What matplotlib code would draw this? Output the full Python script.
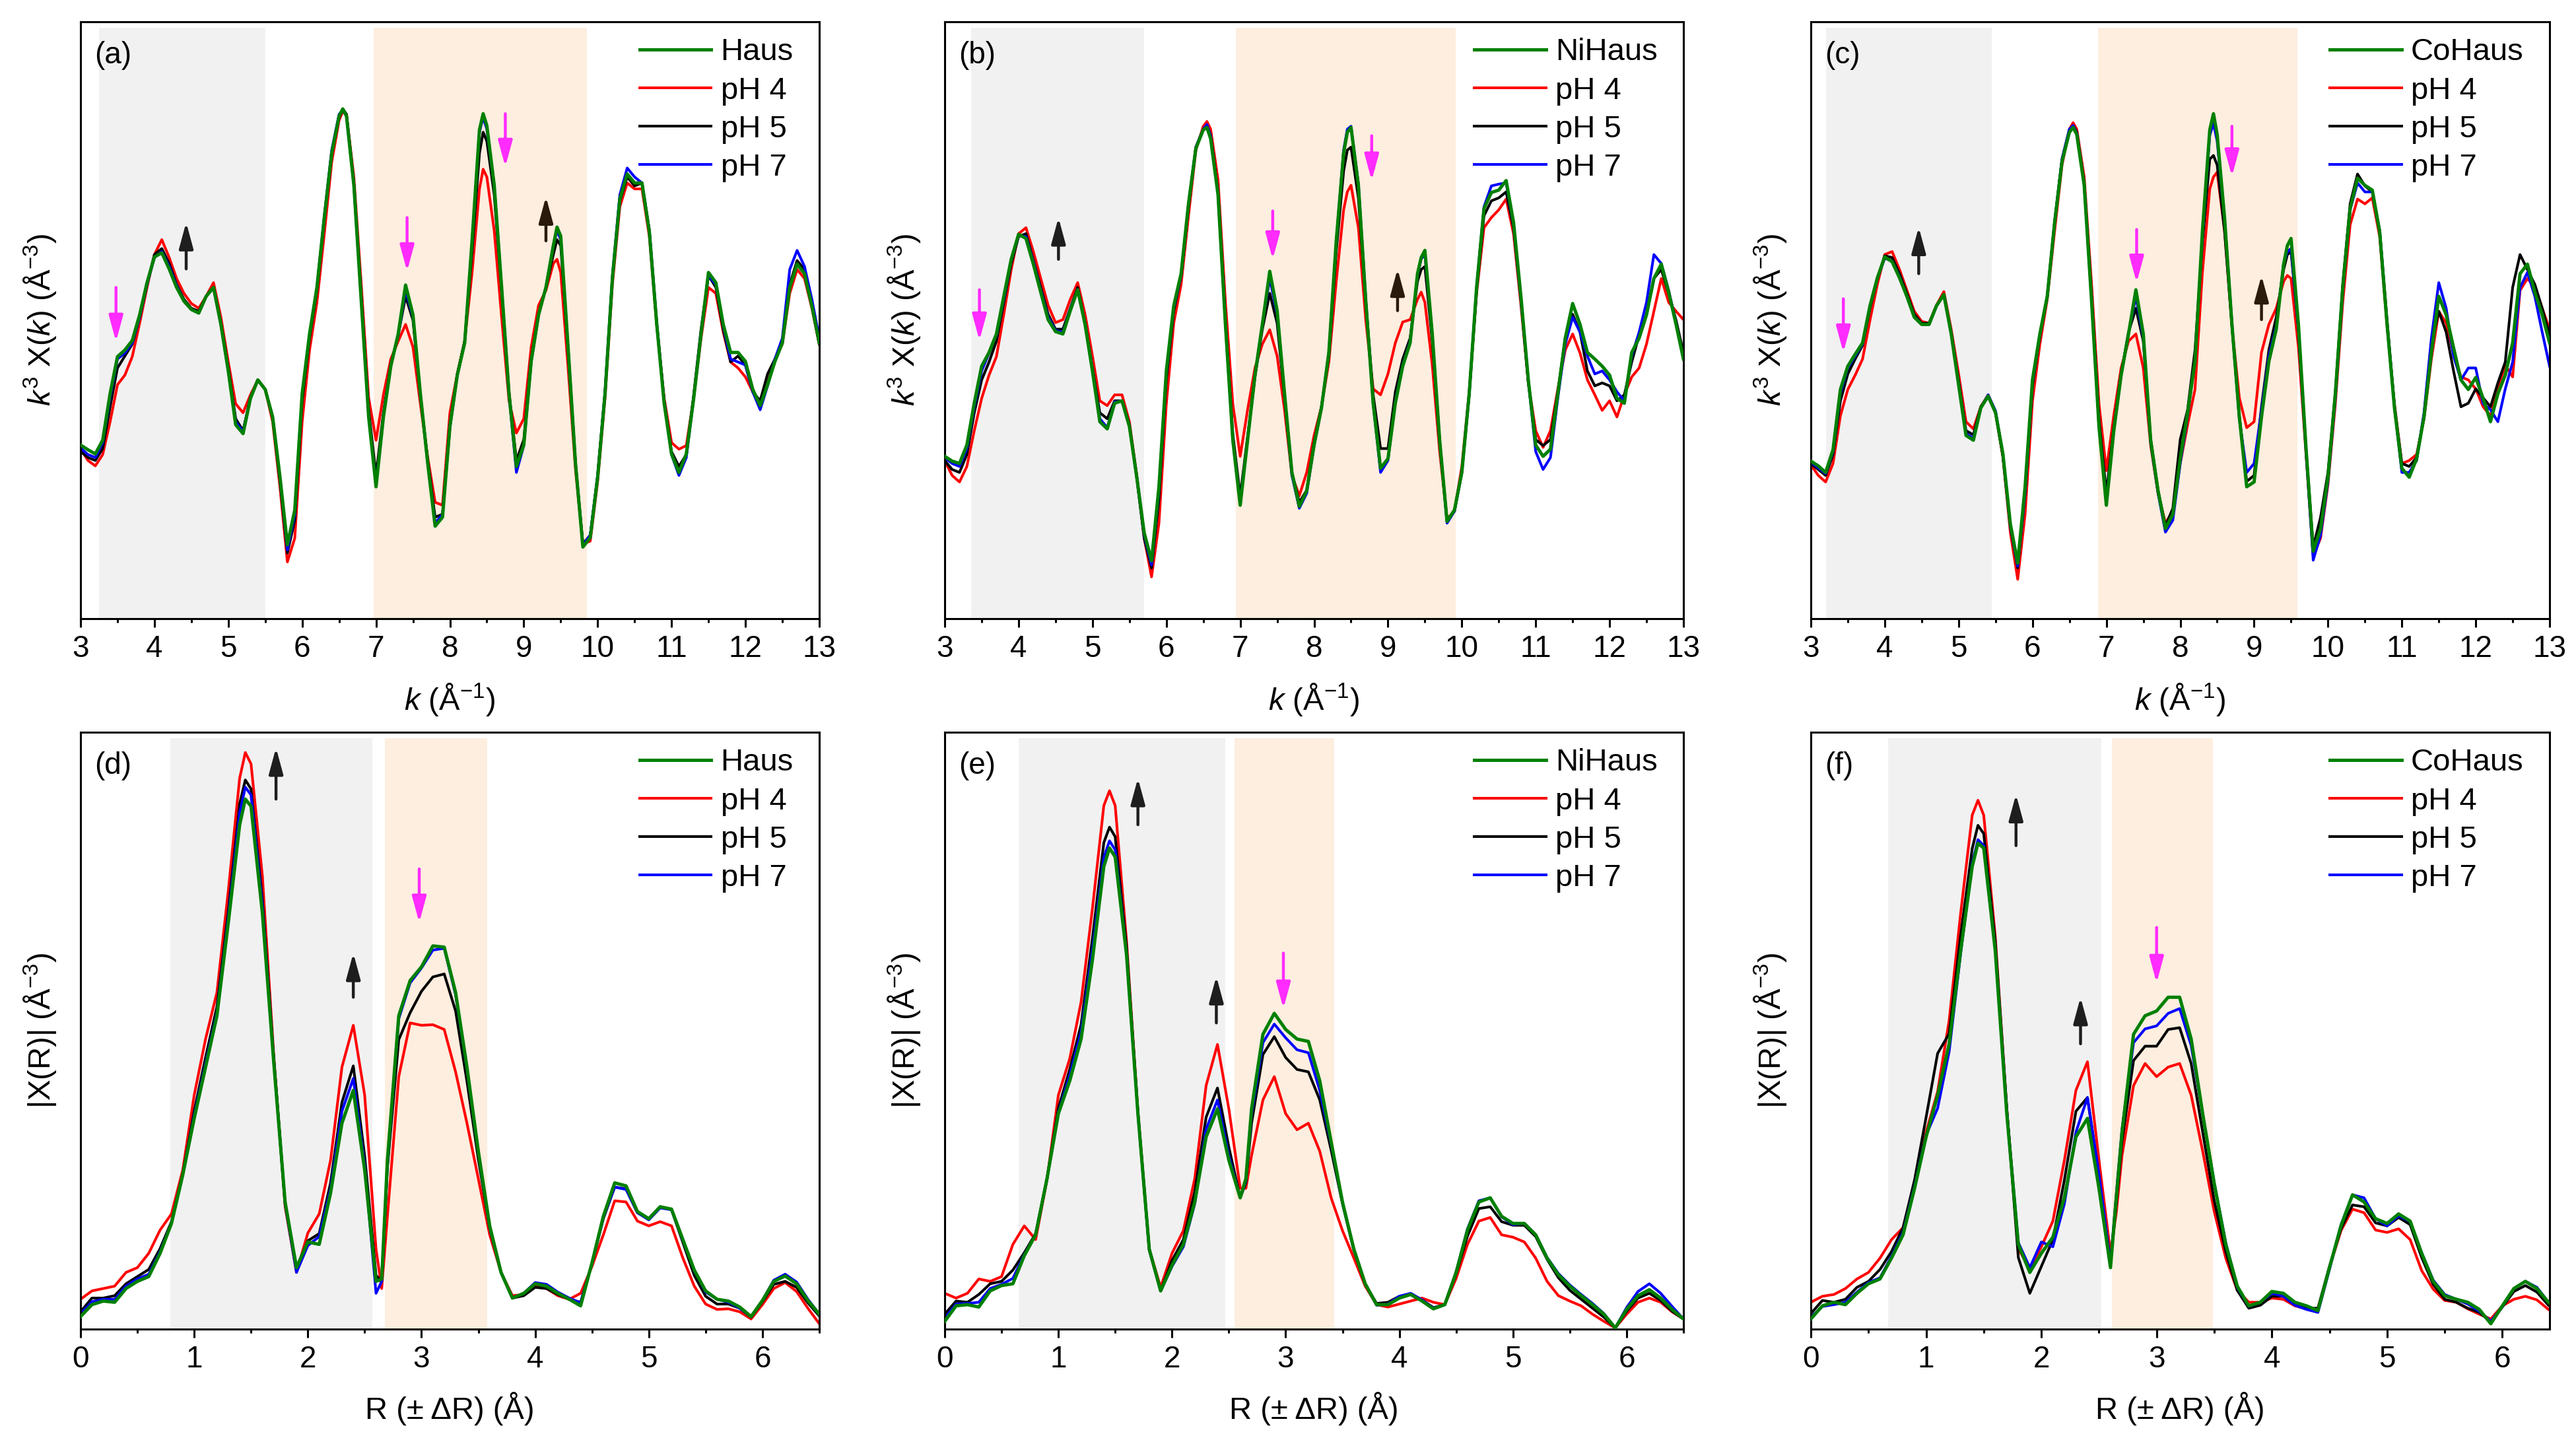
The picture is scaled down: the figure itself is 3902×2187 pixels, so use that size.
import matplotlib
matplotlib.use("Agg")
import matplotlib.pyplot as plt
from matplotlib.ticker import MultipleLocator

plt.rcParams['font.family'] = ['Liberation Sans', 'DejaVu Sans']
plt.rcParams['mathtext.fontset'] = 'custom'
plt.rcParams['mathtext.rm'] = 'Liberation Sans'
plt.rcParams['mathtext.it'] = 'Liberation Sans:italic'
plt.rcParams['mathtext.bf'] = 'Liberation Sans:bold'

# ---------------- k-space grid (top row) ----------------
k_top = [3.0, 3.1, 3.2, 3.3, 3.4, 3.5, 3.6, 3.7, 3.8, 3.9,
         4.0, 4.1, 4.2, 4.3, 4.4, 4.5, 4.6, 4.7, 4.8, 4.9,
         5.0, 5.1, 5.2, 5.3, 5.4, 5.5, 5.6, 5.7, 5.8, 5.9,
         6.0, 6.1, 6.2, 6.3, 6.4, 6.5, 6.55, 6.6, 6.7, 6.8, 6.9,
         7.0, 7.1, 7.2, 7.3, 7.4, 7.5, 7.6, 7.7, 7.8, 7.9,
         8.0, 8.1, 8.2, 8.3, 8.4, 8.45, 8.5, 8.6, 8.7, 8.8, 8.9,
         9.0, 9.1, 9.2, 9.3, 9.4, 9.45, 9.5, 9.6, 9.7, 9.8, 9.9,
         10.0, 10.1, 10.2, 10.3, 10.4, 10.5, 10.6, 10.7, 10.8, 10.9,
         11.0, 11.1, 11.2, 11.3, 11.4, 11.5, 11.6, 11.7, 11.8, 11.9,
         12.0, 12.1, 12.2, 12.3, 12.4, 12.5, 12.6, 12.7, 12.8, 12.9,
         13.0]

# ---- panel (a) ----
a_haus = [29.1, 28.3, 27.6, 29.9, 37.7, 43.9, 45.0, 46.6, 50.9, 56.3,
          60.6, 61.3, 58.6, 55.5, 53.2, 51.8, 51.2, 54.0, 55.5, 49.3,
          41.5, 32.5, 31.0, 36.9, 40.0, 38.4, 33.8, 23.7, 12.4, 18.2,
          37.7, 47.7, 55.5, 67.2, 78.0, 84.2, 85.4, 84.2, 72.6, 53.2, 33.8,
          22.1, 33.8, 42.3, 47.7, 55.9, 50.9, 37.7, 26.0, 15.5, 17.0,
          32.2, 40.8, 46.2, 63.3, 81.9, 84.6, 82.6, 72.6, 55.5, 37.7, 25.5,
          29.1, 43.1, 50.9, 55.5, 62.5, 65.6, 64.1, 45.4, 26.0, 12.0, 13.6,
          23.7, 37.7, 57.1, 70.3, 74.5, 73.0, 73.0, 64.8, 49.3, 36.1,
          27.6, 24.5, 27.6, 36.9, 47.7, 58.0, 56.3, 49.3, 44.6, 44.6,
          43.1, 38.4, 35.7, 39.2, 43.1, 46.2, 55.5, 59.4, 57.8, 52.4,
          46.2]
a_ph4 = [28.5, 26.5, 25.6, 27.5, 33.0, 39.2, 40.8, 43.9, 49.5, 55.5,
         61.0, 63.5, 60.5, 57.0, 54.5, 52.8, 52.0, 54.0, 56.3, 50.5,
         43.0, 36.0, 34.5, 37.5, 40.0, 38.4, 33.0, 22.0, 9.5, 13.5,
         33.0, 45.0, 53.0, 64.5, 76.5, 83.5, 85.0, 84.5, 74.0, 56.0, 37.0,
         29.9, 37.5, 43.5, 46.5, 49.3, 45.5, 36.0, 27.0, 19.5, 19.0,
         34.5, 41.0, 46.5, 58.0, 72.0, 75.3, 74.0, 65.0, 50.5, 36.5, 31.1,
         33.5, 45.5, 52.5, 55.0, 59.5, 60.2, 58.0, 42.0, 25.0, 12.5, 13.0,
         23.0, 37.0, 56.0, 69.0, 73.0, 72.0, 72.0, 64.0, 49.0, 37.0,
         29.5, 28.4, 29.0, 37.0, 47.0, 55.5, 54.5, 48.0, 43.0, 42.0,
         40.5, 38.0, 36.0, 39.5, 43.5, 46.0, 54.5, 58.5, 57.0, 52.0,
         46.0]
a_ph5 = [28.0, 27.0, 26.5, 28.5, 35.5, 42.0, 44.0, 46.0, 50.5, 56.0,
         61.0, 62.0, 59.5, 56.0, 53.5, 52.0, 51.5, 54.0, 55.5, 49.5,
         42.0, 33.5, 31.5, 37.0, 40.0, 38.4, 33.8, 23.0, 11.0, 16.5,
         36.5, 47.0, 55.0, 67.0, 78.0, 84.0, 85.4, 84.5, 73.0, 54.0, 35.0,
         24.0, 34.5, 42.5, 47.5, 54.0, 50.0, 37.5, 26.5, 17.0, 17.5,
         32.5, 41.0, 46.5, 61.5, 78.0, 81.5, 80.0, 71.0, 55.0, 38.0, 26.5,
         30.0, 43.5, 51.0, 55.5, 61.0, 63.5, 62.5, 45.0, 26.0, 12.5, 14.0,
         24.0, 38.0, 57.0, 70.0, 74.0, 72.5, 73.0, 65.0, 49.5, 36.5,
         28.0, 25.5, 27.5, 37.5, 48.5, 57.5, 55.5, 48.5, 43.0, 44.0,
         42.5, 38.0, 36.5, 41.0, 43.5, 46.5, 56.0, 60.0, 58.5, 52.5,
         46.0]
a_ph7 = [28.6, 27.5, 27.0, 29.5, 37.0, 43.5, 44.5, 46.2, 50.5, 56.0,
         60.5, 61.5, 59.0, 55.8, 53.2, 51.8, 51.2, 54.0, 55.5, 49.3,
         41.5, 33.0, 31.3, 37.0, 40.0, 38.4, 33.8, 23.5, 11.5, 17.5,
         37.5, 47.5, 55.5, 67.5, 78.5, 84.5, 85.2, 84.2, 72.6, 53.5, 34.0,
         22.5, 34.0, 42.5, 47.5, 55.0, 50.5, 37.5, 26.0, 16.0, 17.5,
         32.0, 40.8, 46.2, 63.0, 81.5, 84.0, 82.0, 72.5, 55.5, 37.5, 24.5,
         29.0, 43.0, 50.9, 55.5, 62.5, 65.0, 63.5, 45.4, 26.0, 12.3, 14.0,
         24.0, 38.0, 57.5, 71.0, 75.5, 74.0, 73.0, 65.0, 49.5, 36.5,
         27.5, 24.0, 27.0, 37.0, 48.0, 57.5, 56.0, 49.0, 43.5, 43.0,
         42.5, 38.0, 35.0, 39.0, 43.5, 47.0, 58.5, 61.7, 59.0, 53.5,
         47.0]

# ---- panel (b) ----
b_haus = [27.2, 26.4, 26.0, 29.1, 36.1, 42.3, 44.6, 47.7, 54.0, 60.2,
          64.4, 63.7, 59.4, 54.7, 50.1, 48.1, 47.7, 51.6, 55.1, 49.3,
          41.5, 33.0, 31.8, 36.1, 36.5, 32.2, 23.7, 14.4, 9.7, 22.1,
          41.5, 52.4, 57.8, 69.5, 78.8, 81.9, 82.3, 80.4, 71.0, 49.3, 29.9,
          19.0, 29.9, 40.8, 49.3, 58.2, 51.6, 37.7, 24.5, 18.8, 21.4,
          29.1, 35.3, 44.6, 63.3, 78.0, 81.5, 82.3, 72.6, 53.2, 36.1, 25.2,
          26.8, 36.1, 42.3, 46.2, 57.8, 60.5, 61.7, 47.7, 29.9, 16.3, 18.2,
          24.5, 37.7, 55.5, 68.7, 71.4, 71.8, 73.4, 66.4, 54.0, 40.0,
          29.1, 27.2, 28.4, 37.7, 47.0, 52.8, 49.3, 44.6, 43.5, 42.3,
          40.8, 36.9, 36.1, 44.6, 47.0, 50.9, 57.0, 59.4, 54.7, 49.3,
          43.5]
b_ph4 = [26.5, 24.0, 22.9, 25.5, 31.5, 36.9, 40.8, 43.9, 51.0, 58.5,
         64.5, 65.5, 61.5, 57.0, 52.5, 49.6, 50.1, 53.5, 56.3, 51.0,
         44.0, 36.5, 35.7, 37.5, 37.5, 33.0, 24.0, 13.5, 7.0, 16.0,
         36.0, 49.5, 56.0, 67.5, 78.5, 82.5, 83.3, 82.0, 73.5, 53.0, 36.0,
         27.2, 35.0, 42.0, 46.0, 48.4, 44.0, 35.0, 24.0, 20.6, 24.5,
         30.7, 35.5, 43.0, 56.5, 68.5, 71.5, 72.6, 65.5, 50.0, 38.5, 37.5,
         41.0, 46.2, 49.7, 50.1, 53.5, 54.7, 53.0, 42.5, 28.0, 16.7, 18.0,
         25.5, 38.0, 54.5, 65.5, 67.2, 68.5, 70.3, 64.5, 52.5, 39.5,
         31.5, 28.7, 31.5, 38.5, 45.0, 47.7, 44.5, 40.0, 37.5, 34.9,
         36.5, 33.8, 37.5, 40.5, 42.0, 46.0, 51.5, 57.0, 53.0, 51.5,
         50.1]
b_ph5 = [26.5, 25.0, 24.5, 27.5, 34.5, 40.0, 43.0, 46.5, 53.0, 59.5,
         64.0, 64.5, 60.0, 55.5, 51.0, 48.5, 48.5, 52.0, 55.5, 49.5,
         42.0, 34.5, 33.5, 36.5, 36.5, 32.5, 23.5, 13.5, 8.5, 20.0,
         40.0, 51.5, 57.5, 69.0, 79.0, 82.0, 82.5, 81.0, 71.5, 50.0, 31.0,
         20.5, 30.5, 40.5, 48.5, 54.5, 49.5, 37.0, 24.5, 19.5, 21.5,
         29.5, 35.5, 44.0, 61.5, 75.0, 78.5, 79.0, 70.5, 53.0, 37.5, 28.5,
         28.5, 38.0, 43.5, 47.0, 56.5, 58.5, 59.0, 46.5, 29.5, 16.5, 18.0,
         24.5, 37.5, 55.0, 67.5, 70.0, 70.5, 71.5, 65.5, 53.5, 39.5,
         30.0, 29.0, 30.0, 38.0, 47.0, 51.0, 48.0, 41.5, 39.0, 39.5,
         39.0, 36.5, 37.5, 43.0, 47.5, 51.0, 57.0, 58.5, 54.5, 50.0,
         44.5]
b_ph7 = [27.0, 26.0, 25.5, 28.5, 35.5, 41.5, 44.5, 47.5, 53.5, 60.0,
         64.2, 64.0, 59.8, 55.0, 50.5, 48.3, 48.0, 51.8, 55.2, 49.5,
         41.8, 33.5, 32.0, 36.3, 36.5, 32.3, 23.8, 14.0, 9.0, 21.5,
         41.0, 52.0, 57.5, 69.5, 79.0, 82.0, 82.8, 80.8, 71.2, 49.5, 30.0,
         19.5, 30.0, 40.8, 49.3, 57.0, 51.0, 37.5, 24.0, 18.5, 21.0,
         29.0, 35.3, 44.6, 63.0, 78.5, 82.0, 82.5, 72.8, 53.5, 36.0, 24.5,
         26.5, 36.5, 42.5, 46.5, 57.5, 60.3, 61.0, 47.5, 29.8, 16.0, 18.0,
         24.5, 37.7, 55.5, 69.0, 72.5, 72.8, 73.0, 66.0, 53.5, 40.0,
         28.0, 25.0, 27.0, 37.0, 46.0, 50.5, 48.0, 44.0, 41.0, 41.5,
         40.0, 38.0, 36.5, 44.0, 48.0, 53.0, 61.0, 59.5, 55.0, 49.5,
         43.5]

# ---- panel (c) ----
c_haus = [26.4, 25.6, 24.5, 28.3, 38.4, 42.3, 44.3, 46.2, 52.4, 57.1,
          60.6, 59.8, 57.1, 54.0, 50.5, 49.3, 49.3, 52.4, 54.3, 47.7,
          39.2, 30.7, 29.9, 35.3, 37.3, 34.5, 27.6, 15.9, 9.3, 22.1,
          40.0, 47.7, 54.0, 66.4, 76.6, 81.5, 82.3, 81.1, 72.6, 53.2, 32.2,
          19.0, 31.4, 40.8, 47.7, 55.1, 47.7, 29.9, 21.4, 15.1, 17.5,
          26.8, 34.5, 43.1, 64.8, 81.9, 84.6, 81.1, 67.2, 49.3, 33.8, 22.1,
          22.9, 33.8, 43.1, 48.5, 59.4, 62.5, 63.7, 49.3, 29.1, 11.3, 15.1,
          23.7, 37.7, 55.5, 68.7, 73.8, 72.6, 71.8, 64.8, 49.3, 35.3,
          25.2, 23.7, 26.8, 33.8, 44.6, 54.0, 50.9, 45.4, 40.0, 38.4,
          40.4, 36.9, 33.0, 37.7, 40.8, 46.2, 57.8, 59.4, 54.7, 50.9,
          46.2]
c_ph4 = [25.8, 24.0, 22.9, 26.0, 34.0, 38.4, 40.8, 43.5, 50.0, 56.0,
         61.0, 61.5, 58.5, 55.0, 51.5, 49.8, 49.5, 52.5, 54.8, 48.5,
         41.0, 33.0, 31.8, 35.5, 37.5, 34.5, 27.0, 14.5, 6.6, 17.5,
         36.5, 46.0, 53.5, 65.0, 76.0, 82.0, 83.1, 82.0, 74.0, 56.0, 36.0,
         24.8, 34.0, 42.0, 46.5, 47.7, 42.0, 29.0, 21.0, 16.0, 18.0,
         26.0, 32.5, 38.4, 58.0, 72.0, 74.0, 74.8, 65.0, 49.0, 37.0, 32.0,
         33.0, 44.6, 49.3, 52.0, 56.5, 57.5, 57.0, 45.5, 28.0, 10.5, 13.5,
         22.5, 36.0, 53.0, 66.0, 70.3, 69.5, 70.5, 64.0, 49.0, 36.0,
         26.0, 26.5, 27.5, 33.5, 43.5, 51.5, 49.5, 44.5, 40.5, 40.0,
         38.5, 35.5, 34.0, 38.5, 42.5, 40.5, 55.0, 57.0, 55.5, 52.0,
         48.5]
c_ph5 = [26.0, 25.0, 24.0, 27.5, 36.5, 41.0, 43.5, 45.8, 52.0, 57.0,
         60.8, 60.5, 57.8, 54.5, 51.0, 49.5, 49.5, 52.4, 54.3, 47.8,
         39.8, 31.5, 30.8, 35.5, 37.3, 34.5, 27.2, 15.5, 8.5, 21.0,
         39.0, 47.5, 54.0, 66.5, 77.0, 82.0, 82.6, 81.5, 73.0, 54.0, 33.5,
         21.0, 32.0, 41.0, 48.0, 52.0, 46.5, 30.0, 21.5, 15.5, 18.5,
         30.0, 35.0, 45.0, 63.0, 77.0, 77.6, 76.0, 65.0, 49.0, 34.0, 23.0,
         24.0, 35.5, 45.0, 50.5, 58.5, 61.0, 61.5, 48.5, 29.0, 12.0, 17.0,
         24.5, 38.0, 56.0, 69.5, 74.5, 72.5, 71.5, 65.0, 50.0, 35.5,
         26.0, 25.5, 27.0, 34.0, 46.0, 51.5, 48.0, 41.5, 35.5, 36.1,
         38.5, 37.0, 35.5, 39.5, 43.0, 55.5, 61.0, 58.5, 56.0, 52.0,
         47.5]
c_ph7 = [26.2, 25.3, 24.3, 28.0, 37.8, 42.0, 44.0, 46.0, 52.2, 57.0,
         60.4, 59.9, 57.3, 54.0, 50.6, 49.3, 49.3, 52.4, 54.3, 47.8,
         39.5, 31.0, 30.2, 35.3, 37.5, 34.8, 27.5, 15.5, 8.8, 21.0,
         39.5, 47.5, 54.0, 66.5, 77.0, 82.0, 82.6, 81.3, 72.8, 53.5, 32.5,
         19.5, 31.5, 40.8, 47.7, 54.0, 47.0, 29.5, 21.0, 14.5, 16.5,
         26.0, 34.0, 43.5, 64.0, 81.0, 83.0, 80.0, 67.0, 49.5, 33.5, 24.5,
         26.0, 35.0, 44.0, 49.0, 59.5, 61.5, 62.0, 48.5, 28.5, 9.8, 14.0,
         23.0, 37.0, 55.0, 68.5, 73.0, 71.5, 71.5, 65.0, 49.5, 35.5,
         24.5, 24.5, 26.5, 34.5, 47.0, 56.3, 52.0, 44.0, 40.0, 42.0,
         42.0, 36.0, 35.0, 33.0, 38.5, 43.0, 55.5, 58.0, 54.0, 48.0,
         42.3]

# ---------------- R-space grid (bottom row) ----------------
r_bot = [0.0, 0.1, 0.2, 0.3, 0.4, 0.5, 0.6, 0.7, 0.8, 0.9,
         1.0, 1.1, 1.2, 1.3, 1.4, 1.45, 1.5, 1.6, 1.7, 1.8, 1.9,
         2.0, 2.1, 2.2, 2.3, 2.4, 2.5, 2.6, 2.65, 2.7, 2.8, 2.9,
         3.0, 3.1, 3.2, 3.3, 3.4, 3.5, 3.6, 3.7, 3.8, 3.9,
         4.0, 4.1, 4.2, 4.3, 4.4, 4.5, 4.6, 4.7, 4.8, 4.9,
         5.0, 5.1, 5.2, 5.3, 5.4, 5.5, 5.6, 5.7, 5.8, 5.9,
         6.0, 6.1, 6.2, 6.3, 6.4, 6.5]

# ---- panel (d) ----
d_haus = [2.1, 4.1, 4.7, 4.5, 6.8, 8.0, 8.8, 12.7, 17.7, 25.9,
          35.3, 43.9, 52.5, 68.1, 84.5, 88.8, 87.6, 69.7, 44.7, 21.3, 10.3,
          14.6, 14.2, 22.8, 34.5, 40.0, 26.7, 8.0, 8.4, 28.3, 52.5, 58.4,
          60.7, 64.2, 64.0, 56.4, 43.9, 29.8, 17.3, 9.5, 5.2, 6.0,
          7.6, 7.2, 6.0, 5.0, 3.9, 11.1, 18.9, 24.5, 24.0, 19.7,
          18.5, 20.5, 20.1, 15.0, 9.9, 6.4, 5.0, 4.7, 3.7, 2.1,
          4.8, 8.0, 8.9, 7.6, 4.8, 2.5]
d_ph4 = [5.0, 6.4, 6.8, 7.2, 9.5, 10.3, 12.7, 16.6, 19.3, 26.7,
         39.2, 48.6, 56.4, 73.4, 92.3, 96.6, 94.7, 75.9, 45.9, 20.5, 9.5,
         16.1, 19.3, 28.3, 43.9, 50.9, 39.2, 13.4, 6.8, 18.9, 42.3, 51.3,
         50.9, 51.0, 50.2, 43.1, 34.5, 25.2, 15.8, 9.5, 5.6, 5.8,
         7.2, 6.8, 5.6, 5.0, 6.0, 10.5, 15.8, 21.5, 21.3, 18.1,
         17.3, 18.0, 17.3, 11.9, 7.2, 4.2, 3.3, 3.4, 2.9, 1.7,
         4.1, 6.8, 7.8, 6.3, 3.5, 0.9]
d_ph5 = [2.9, 5.2, 5.2, 5.6, 7.6, 8.8, 10.0, 13.5, 18.0, 26.0,
         36.5, 45.5, 54.0, 70.0, 88.0, 92.0, 90.5, 72.0, 45.5, 21.0, 10.0,
         14.8, 16.0, 24.5, 38.0, 44.1, 29.0, 9.0, 8.0, 27.0, 48.5, 53.0,
         56.6, 59.0, 59.5, 53.3, 41.5, 28.5, 17.0, 9.5, 5.2, 5.6,
         7.0, 6.8, 5.8, 5.0, 4.5, 11.0, 18.5, 23.8, 23.5, 19.5,
         18.5, 20.5, 20.0, 14.5, 9.0, 5.5, 4.2, 4.2, 3.5, 2.0,
         4.6, 7.5, 8.0, 7.0, 4.4, 2.2]
d_ph7 = [2.5, 4.6, 5.0, 5.0, 7.2, 8.4, 9.2, 13.0, 17.8, 25.9,
         35.8, 44.5, 53.0, 69.0, 86.5, 90.8, 89.5, 71.0, 45.0, 21.0, 9.5,
         14.0, 15.5, 23.5, 36.5, 42.0, 27.5, 6.0, 8.0, 27.5, 52.0, 58.0,
         60.5, 63.5, 63.8, 56.0, 43.5, 29.5, 17.0, 9.5, 5.2, 6.0,
         7.8, 7.5, 6.2, 5.2, 4.4, 11.0, 18.7, 23.8, 23.4, 19.5,
         18.3, 20.3, 20.0, 14.8, 9.8, 6.2, 5.0, 4.5, 3.5, 2.1,
         4.8, 8.2, 9.2, 7.9, 5.0, 2.5]

# ---- panel (e) ----
e_haus = [1.3, 3.9, 4.1, 3.7, 6.4, 7.3, 7.6, 12.3, 15.8, 25.2,
          36.1, 41.6, 48.6, 61.9, 77.5, 80.6, 79.1, 62.7, 36.1, 13.4, 6.4,
          10.7, 14.2, 21.3, 32.2, 36.9, 28.3, 22.0, 25.2, 36.9, 49.4, 52.9,
          50.2, 48.6, 48.2, 41.6, 31.4, 21.3, 13.4, 7.6, 4.1, 4.1,
          5.2, 5.8, 4.7, 3.4, 4.1, 9.5, 16.6, 21.3, 22.0, 18.9,
          17.7, 17.7, 15.8, 11.9, 9.1, 7.2, 5.6, 4.1, 2.5, 0.2,
          3.3, 5.6, 6.6, 5.2, 3.3, 1.7]
e_ph4 = [6.0, 5.2, 6.0, 8.4, 8.0, 8.8, 14.2, 17.3, 15.0, 25.0,
         39.2, 45.3, 54.8, 70.5, 87.7, 90.2, 87.7, 65.0, 36.5, 13.4, 7.0,
         12.7, 16.5, 25.2, 40.8, 47.7, 36.9, 23.6, 23.6, 29.1, 38.4, 42.3,
         36.1, 33.4, 34.5, 29.8, 22.0, 16.5, 11.9, 7.2, 4.1, 3.7,
         4.2, 4.7, 5.2, 4.5, 4.1, 8.5, 14.2, 18.1, 18.7, 15.8,
         15.4, 14.6, 11.9, 8.0, 5.6, 4.7, 3.9, 2.5, 1.3, 0.2,
         2.5, 4.5, 5.2, 4.5, 2.9, 1.7]
e_ph5 = [2.5, 4.7, 4.5, 5.8, 7.6, 8.0, 9.9, 12.8, 16.0, 25.2,
         37.0, 43.5, 51.0, 65.5, 81.5, 84.1, 82.5, 64.0, 36.3, 13.2, 6.4,
         11.5, 15.0, 23.0, 35.5, 40.4, 30.5, 22.0, 24.5, 34.5, 46.0, 49.0,
         45.5, 43.5, 43.1, 38.4, 30.0, 21.0, 13.2, 7.5, 4.3, 4.5,
         5.5, 5.9, 4.9, 3.6, 4.1, 9.3, 15.6, 20.2, 20.5, 18.0,
         17.4, 17.4, 15.5, 11.7, 8.6, 6.5, 5.0, 3.5, 2.0, 0.2,
         3.0, 5.2, 6.0, 4.8, 3.0, 1.7]
e_ph7 = [1.8, 4.2, 4.3, 4.5, 6.8, 7.5, 8.5, 12.5, 15.8, 25.2,
         36.3, 42.5, 49.8, 63.5, 79.0, 81.8, 80.3, 63.0, 36.2, 13.3, 6.4,
         10.5, 13.8, 21.0, 33.5, 38.4, 29.0, 22.0, 24.8, 36.0, 48.0, 51.1,
         48.8, 46.8, 46.3, 40.0, 31.0, 21.2, 13.3, 7.6, 4.0, 4.2,
         5.5, 6.0, 4.9, 3.5, 4.1, 9.6, 16.8, 21.5, 22.0, 18.8,
         17.5, 17.7, 15.8, 12.0, 9.3, 7.4, 5.8, 4.3, 2.6, 0.2,
         3.6, 6.3, 7.6, 6.0, 3.8, 1.7]

# ---- panel (f) ----
f_haus = [1.7, 3.9, 4.5, 4.1, 6.0, 7.6, 8.4, 11.9, 15.8, 23.6,
          32.2, 39.2, 47.8, 63.4, 77.5, 81.4, 80.6, 63.4, 36.1, 14.2, 9.5,
          12.7, 15.4, 22.0, 32.2, 35.3, 23.6, 10.3, 22.0, 33.0, 49.4, 52.5,
          53.3, 55.6, 55.6, 48.6, 36.1, 24.4, 14.2, 7.2, 3.9, 4.5,
          6.3, 6.0, 4.5, 3.9, 3.1, 10.3, 17.3, 22.5, 21.3, 18.5,
          17.7, 19.3, 18.1, 12.7, 8.0, 5.6, 5.0, 4.5, 3.3, 0.9,
          3.9, 6.8, 8.0, 6.8, 4.5, 3.0]
f_ph4 = [4.5, 5.5, 5.8, 6.8, 8.4, 9.5, 11.9, 15.0, 17.0, 24.4,
         33.0, 39.8, 51.7, 69.7, 86.1, 88.6, 86.1, 65.8, 37.0, 13.5, 10.0,
         13.8, 18.1, 28.3, 40.0, 44.8, 28.3, 12.7, 19.5, 29.1, 40.8, 44.5,
         42.3, 43.9, 44.5, 39.2, 29.8, 19.7, 11.9, 6.5, 4.5, 4.5,
         5.2, 5.0, 3.9, 3.4, 3.4, 10.3, 16.5, 20.1, 19.5, 16.6,
         16.2, 16.8, 15.0, 9.8, 6.7, 4.8, 4.5, 3.4, 2.5, 1.7,
         3.9, 5.0, 5.5, 4.9, 3.3, 2.0]
f_ph5 = [2.6, 4.8, 4.5, 5.0, 7.0, 8.0, 10.0, 13.0, 17.0, 25.0,
         35.5, 46.2, 49.5, 66.0, 80.5, 84.4, 83.0, 65.0, 37.0, 12.0, 6.0,
         10.5, 15.0, 25.0, 36.5, 38.8, 25.5, 11.0, 21.0, 31.5, 45.0, 47.4,
         47.4, 50.2, 50.5, 44.5, 33.0, 21.5, 13.0, 6.5, 3.5, 4.0,
         5.5, 5.5, 4.0, 3.5, 3.5, 10.5, 16.8, 20.8, 20.5, 17.8,
         17.3, 18.7, 17.5, 12.0, 7.5, 5.0, 4.5, 3.5, 2.8, 1.2,
         3.7, 6.3, 7.3, 6.2, 4.0, 2.5]
f_ph7 = [2.0, 3.8, 4.1, 4.5, 6.2, 7.8, 8.6, 12.2, 16.2, 24.0,
         32.5, 37.0, 46.5, 63.0, 78.0, 82.0, 81.0, 63.8, 36.5, 14.5, 10.3,
         14.6, 13.8, 21.0, 33.0, 38.8, 26.0, 11.0, 22.5, 33.5, 48.0, 50.3,
         50.8, 52.9, 53.7, 47.5, 36.0, 24.5, 14.5, 7.0, 3.8, 4.5,
         6.0, 5.5, 4.0, 3.3, 2.8, 10.0, 17.5, 22.5, 22.0, 18.5,
         17.3, 19.0, 18.0, 12.8, 8.2, 5.8, 5.0, 4.2, 3.0, 1.3,
         3.8, 6.8, 8.0, 7.0, 4.5, 3.2]

# ---------------- labels, shading, arrows ----------------
panel_tags = ['(a)', '(b)', '(c)', '(d)', '(e)', '(f)']
ref_names = ['Haus', 'NiHaus', 'CoHaus', 'Haus', 'NiHaus', 'CoHaus']
ph_names = ['pH 4', 'pH 5', 'pH 7']
gray_spans = [(3.25, 5.50), (3.36, 5.70), (3.21, 5.45), (0.79, 2.57), (0.65, 2.47), (0.67, 2.52)]
orange_spans = [(6.97, 9.85), (6.94, 9.92), (6.89, 9.59), (2.68, 3.58), (2.55, 3.43), (2.61, 3.49)]
# (x, y_tail, y_head, colour key)
arrows_a = [(3.48, 55.5, 46.4, 'm'), (4.43, 58.6, 66.4, 'k'), (7.42, 67.2, 58.2, 'm'),
            (8.75, 84.6, 75.7, 'm'), (9.30, 63.3, 70.7, 'd')]
arrows_b = [(3.47, 55.1, 46.6, 'm'), (4.54, 60.2, 67.2, 'k'), (7.44, 68.3, 60.2, 'm'),
            (8.78, 80.9, 73.4, 'm'), (9.13, 51.6, 58.6, 'd')]
arrows_c = [(3.44, 53.6, 44.6, 'm'), (4.46, 57.8, 65.6, 'k'), (7.41, 65.2, 56.3, 'm'),
            (8.70, 82.5, 74.1, 'm'), (9.10, 50.1, 57.5, 'd')]
arrows_d = [(1.72, 88.8, 97.4, 'k'), (2.40, 55.6, 63.0, 'k'), (2.98, 77.1, 68.1, 'm')]
arrows_e = [(1.70, 84.5, 92.3, 'k'), (2.39, 51.3, 59.1, 'k'), (2.98, 63.0, 53.7, 'm')]
arrows_f = [(1.78, 81.0, 89.6, 'k'), (2.34, 47.8, 55.6, 'k'), (3.00, 67.3, 58.0, 'm')]

arrow_colors = {'m': '#FF2BFF', 'k': '#1E1E1E', 'd': '#2A1A0C'}
line_colors = ['#008000', '#FF0000', '#000000', '#0000FF']

W, H = 3902, 2187
fig = plt.figure(figsize=(W / 100, H / 100), dpi=100)

col_left = [122, 1431, 2743]
row_top = [33, 1109]
ax_w, ax_h = 1119, 904

panels = [
    (k_top, [a_haus, a_ph4, a_ph5, a_ph7], arrows_a, (3, 13)),
    (k_top, [b_haus, b_ph4, b_ph5, b_ph7], arrows_b, (3, 13)),
    (k_top, [c_haus, c_ph4, c_ph5, c_ph7], arrows_c, (3, 13)),
    (r_bot, [d_haus, d_ph4, d_ph5, d_ph7], arrows_d, (0, 6.5)),
    (r_bot, [e_haus, e_ph4, e_ph5, e_ph7], arrows_e, (0, 6.5)),
    (r_bot, [f_haus, f_ph4, f_ph5, f_ph7], arrows_f, (0, 6.41)),
]

for i, (xs, series, arrows, xlim) in enumerate(panels):
    row, col = divmod(i, 3)
    left = col_left[col] / W
    bottom = 1 - (row_top[row] + ax_h) / H
    ax = fig.add_axes([left, bottom, ax_w / W, ax_h / H])

    ax.axvspan(*gray_spans[i], ymin=0, ymax=0.99, color='#F1F1F1', lw=0, zorder=0)
    ax.axvspan(*orange_spans[i], ymin=0, ymax=0.99, color='#FDEEDF', lw=0, zorder=0)

    names = [ref_names[i]] + ph_names
    handles = [None] * 4
    for j in [1, 2, 3, 0]:
        lw = 3.6 if j == 0 else 2.9
        ln, = ax.plot(xs, series[j], color=line_colors[j], lw=lw,
                      solid_joinstyle='round', zorder=2 + (j == 0), label=names[j])
        handles[j] = ln

    for (x, y0, y1, c) in arrows:
        ax.annotate('', xy=(x, y1), xytext=(x, y0),
                    arrowprops=dict(arrowstyle='-|>,head_length=24,head_width=6.5',
                                    mutation_scale=1, lw=3.2,
                                    color=arrow_colors[c],
                                    shrinkA=0, shrinkB=0),
                    zorder=6)

    ax.set_xlim(*xlim)
    ax.set_ylim(0, 100)
    ax.set_yticks([])
    ax.xaxis.set_major_locator(MultipleLocator(1))
    ax.xaxis.set_minor_locator(MultipleLocator(0.5))
    ax.tick_params(axis='x', which='major', direction='out', length=9.5, width=2.2,
                   labelsize=33, pad=8)
    ax.tick_params(axis='x', which='minor', direction='out', length=4.5, width=2.2)
    for sp in ax.spines.values():
        sp.set_linewidth(2.2)

    leg = ax.legend(handles=handles, labels=names, loc='upper right',
                    bbox_to_anchor=(0.965, 0.973), borderaxespad=0, borderpad=0,
                    frameon=False, handlelength=2.3, handletextpad=0.3,
                    labelspacing=0.3, fontsize=34)

    ax.text(0.019, 0.944, panel_tags[i], transform=ax.transAxes, fontsize=33,
            ha='left', va='center')

    if row == 0:
        ax.set_xlabel(r'$k$ (Å$^{-1}$)', fontsize=34)
        ax.set_ylabel(r'$k^3$ X($k$) (Å$^{-3}$)', fontsize=34)
    else:
        ax.set_xlabel('R (± ΔR) (Å)', fontsize=34)
        ax.set_ylabel('|X(R)| (Å$^{-3}$)', fontsize=34)
    ax.xaxis.set_label_coords(0.5, -0.105)
    ax.yaxis.set_label_coords(-0.030, 0.5)

fig.savefig('out.png', dpi=100)
